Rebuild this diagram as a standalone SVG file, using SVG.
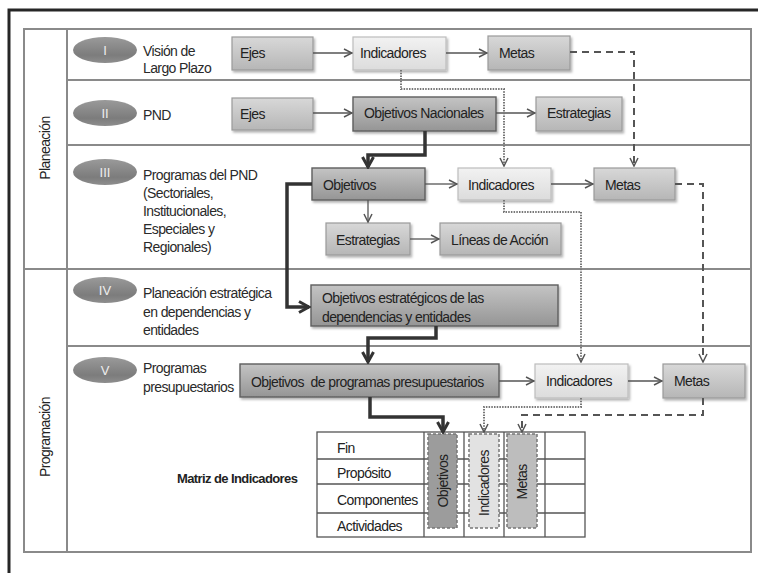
<svg xmlns="http://www.w3.org/2000/svg" width="758" height="573" viewBox="0 0 758 573">
<style>
text{font-family:"Liberation Sans",Arial,sans-serif;font-size:14px;fill:#222;letter-spacing:-0.6px}
.lbl{fill:#2a2a2a}
.bold{font-weight:bold;font-size:13px}
.num{fill:#eee;font-size:13px;text-anchor:middle;letter-spacing:0}
.bl{fill:url(#gL);stroke:#bdbdbd;stroke-width:1.2;filter:url(#sh)}
.bm{fill:url(#gM);stroke:#9a9a9a;stroke-width:1.2;filter:url(#sh)}
.bd{fill:url(#gD);stroke:#5e5e5e;stroke-width:1.4;filter:url(#sh)}
.grid{fill:none;stroke:#8a8a8a;stroke-width:2}
.thin{fill:none;stroke:#555;stroke-width:1.3;marker-end:url(#aThin)}
.dot{fill:none;stroke:#777;stroke-width:2;stroke-dasharray:1.5 1.2;marker-end:url(#aThin)}
.dash{fill:none;stroke:#555;stroke-width:2;stroke-dasharray:7 5;marker-end:url(#aThin)}
.thick{fill:none;stroke:#333;stroke-width:3.5;marker-end:url(#aThick)}
.mx{fill:none;stroke:#555;stroke-width:1.3}
.col{stroke:#777;stroke-width:1.5;stroke-dasharray:3 2}
</style>
<defs>
<linearGradient id="gL" x1="0" y1="0" x2="0" y2="1"><stop offset="0" stop-color="#f2f2f2"/><stop offset="1" stop-color="#dcdcdc"/></linearGradient>
<linearGradient id="gM" x1="0" y1="0" x2="0" y2="1"><stop offset="0" stop-color="#d8d8d8"/><stop offset="1" stop-color="#b6b6b6"/></linearGradient>
<linearGradient id="gD" x1="0" y1="0" x2="0" y2="1"><stop offset="0" stop-color="#c4c4c4"/><stop offset="1" stop-color="#959595"/></linearGradient>
<linearGradient id="gO" x1="0" y1="0" x2="0" y2="1"><stop offset="0" stop-color="#9a9a9a"/><stop offset="0.7" stop-color="#7c7c7c"/><stop offset="1" stop-color="#8e8e8e"/></linearGradient>
<filter id="sh" x="-10%" y="-20%" width="125%" height="150%"><feDropShadow dx="1.5" dy="2" stdDeviation="1.3" flood-color="#000" flood-opacity="0.3"/></filter>
<marker id="aThin" viewBox="0 0 10 10" refX="9" refY="5" markerWidth="10" markerHeight="10" markerUnits="userSpaceOnUse" orient="auto"><path d="M1,1 L9,5 L1,9" fill="none" stroke="#555" stroke-width="1.5"/></marker>
<marker id="aThick" viewBox="0 0 14 14" refX="12" refY="7" markerWidth="14" markerHeight="14" markerUnits="userSpaceOnUse" orient="auto"><path d="M2,1.5 L12,7 L2,12.5" fill="none" stroke="#333" stroke-width="3"/></marker>
</defs>
<rect width="758" height="573" fill="#fff"/>
<rect x="9" y="10" width="760" height="570" fill="none" stroke="#262626" stroke-width="3"/>

<g id="frame">
<rect class="grid" x="24" y="29" width="727" height="523"/>
<line class="grid" x1="67" y1="29" x2="67" y2="552"/>
<line class="grid" x1="67" y1="80" x2="751" y2="80"/>
<line class="grid" x1="67" y1="145" x2="751" y2="145"/>
<line class="grid" x1="24" y1="269" x2="751" y2="269"/>
<line class="grid" x1="67" y1="346" x2="751" y2="346"/>
<text transform="translate(50,148) rotate(-90)" text-anchor="middle" letter-spacing="-0.3">Planeación</text>
<text transform="translate(50,437) rotate(-90)" text-anchor="middle" letter-spacing="-0.3">Programación</text>
</g>

<g id="row1">
<ellipse cx="105" cy="50" rx="32" ry="13" fill="url(#gO)"/>
<text class="num" x="105" y="55">I</text>
<text class="lbl" x="143" y="56">Visión de</text>
<text class="lbl" x="143" y="73">Largo Plazo</text>
</g>
<g id="row2">
<ellipse cx="105" cy="113" rx="32" ry="13" fill="url(#gO)"/>
<text class="num" x="105" y="118">II</text>
<text class="lbl" x="143" y="120">PND</text>
</g>
<g id="row3">
<ellipse cx="105" cy="172" rx="32" ry="13" fill="url(#gO)"/>
<text class="num" x="105" y="177">III</text>
<text class="lbl" x="143" y="180">Programas del PND</text>
<text class="lbl" x="143" y="198">(Sectoriales,</text>
<text class="lbl" x="143" y="216">Institucionales,</text>
<text class="lbl" x="143" y="234">Especiales y</text>
<text class="lbl" x="143" y="252">Regionales)</text>
</g>
<g id="row4">
<ellipse cx="105" cy="290" rx="32" ry="13" fill="url(#gO)"/>
<text class="num" x="105" y="295">IV</text>
<text class="lbl" x="143" y="298">Planeación estratégica</text>
<text class="lbl" x="143" y="317">en dependencias y</text>
<text class="lbl" x="143" y="335">entidades</text>
</g>
<g id="row5">
<ellipse cx="105" cy="370" rx="32" ry="13" fill="url(#gO)"/>
<text class="num" x="105" y="375">V</text>
<text class="lbl" x="143" y="373">Programas</text>
<text class="lbl" x="143" y="392">presupuestarios</text>
</g>

<g id="ejes1"><rect class="bm" x="232" y="37" width="81" height="33"/><text x="240" y="58">Ejes</text></g>
<g id="indicadores1"><rect class="bl" x="353" y="37" width="93" height="33"/><text x="360" y="58">Indicadores</text></g>
<g id="metas1"><rect class="bm" x="488" y="36" width="82" height="34"/><text x="499" y="58">Metas</text></g>

<g id="ejes2"><rect class="bm" x="232" y="98" width="81" height="32"/><text x="240" y="119">Ejes</text></g>
<g id="objnac"><rect class="bd" x="353" y="97" width="143" height="34"/><text x="364" y="118">Objetivos Nacionales</text></g>
<g id="estrategias2"><rect class="bm" x="536" y="97" width="86" height="34"/><text x="547" y="118">Estrategias</text></g>

<g id="objetivos3"><rect class="bd" x="312" y="168" width="113" height="32"/><text x="323" y="190">Objetivos</text></g>
<g id="indicadores3"><rect class="bl" x="458" y="168" width="93" height="32"/><text x="468" y="190">Indicadores</text></g>
<g id="metas3"><rect class="bm" x="594" y="168" width="81" height="32"/><text x="605" y="190">Metas</text></g>
<g id="estrategias3"><rect class="bm" x="326" y="223" width="84" height="32"/><text x="336" y="245">Estrategias</text></g>
<g id="lineas"><rect class="bm" x="440" y="223" width="121" height="32"/><text x="451" y="245">Líneas de Acción</text></g>

<g id="objest"><rect class="bd" x="311" y="285" width="247" height="41"/><text x="322" y="303">Objetivos estratégicos de las</text><text x="322" y="322">dependencias y entidades</text></g>

<g id="objpp"><rect class="bd" x="240" y="364" width="259" height="33"/><text x="251" y="387" xml:space="preserve">Objetivos  de programas presupuestarios</text></g>
<g id="indicadores5"><rect class="bl" x="535" y="364" width="93" height="34"/><text x="546" y="386">Indicadores</text></g>
<g id="metas5"><rect class="bm" x="663" y="364" width="82" height="34"/><text x="674" y="386">Metas</text></g>

<g id="matriz">
<text class="bold" x="177" y="483">Matriz de Indicadores</text>
<rect class="mx" x="317" y="432" width="268" height="105"/>
<line class="mx" x1="317" y1="459" x2="585" y2="459"/>
<line class="mx" x1="317" y1="484" x2="585" y2="484"/>
<line class="mx" x1="317" y1="513" x2="585" y2="513"/>
<line class="mx" x1="424" y1="432" x2="424" y2="537"/>
<line class="mx" x1="464" y1="432" x2="464" y2="537"/>
<line class="mx" x1="504" y1="432" x2="504" y2="537"/>
<line class="mx" x1="545" y1="432" x2="545" y2="537"/>
<text x="337" y="453">Fin</text>
<text x="337" y="478">Propósito</text>
<text x="337" y="505">Componentes</text>
<text x="337" y="531">Actividades</text>
</g>
<g id="colObjetivos"><rect class="col" x="428" y="434" width="29" height="94" fill="#9c9c9c"/><text transform="translate(448,481) rotate(-90)" text-anchor="middle">Objetivos</text></g>
<g id="colIndicadores"><rect class="col" x="469" y="434" width="30" height="94" fill="#e2e2e2"/><text transform="translate(489,483) rotate(-90)" text-anchor="middle">Indicadores</text></g>
<g id="colMetas"><rect class="col" x="507" y="434" width="30" height="94" fill="#bdbdbd"/><text transform="translate(527,482) rotate(-90)" text-anchor="middle">Metas</text></g>

<g id="connectors">
<path class="thin" d="M313,53 H352"/>
<path class="thin" d="M446,53 H487"/>
<path class="thin" d="M313,113 H352"/>
<path class="thin" d="M496,113 H535"/>
<path class="thin" d="M425,184 H457"/>
<path class="thin" d="M551,184 H593"/>
<path class="thin" d="M368,200 V222"/>
<path class="thin" d="M410,239 H439"/>
<path class="thin" d="M499,381 H534"/>
<path class="thin" d="M628,381 H662"/>
<path class="dot" d="M401,70 V89 H504 V166"/>
<path class="dot" d="M504,200 V212 H581 V362"/>
<path class="dot" d="M581,398 V407 H484 V432"/>
<path class="dash" d="M570,52 H634 V166"/>
<path class="dash" d="M675,184 H703 V362"/>
<path class="dash" d="M703,398 V415 H522 V432"/>
<path class="thick" d="M425,131 V155 H368 V167"/>
<path class="thick" d="M312,184 H287 V307 H309"/>
<path class="thick" d="M436,326 V338 H368 V362"/>
<path class="thick" d="M370,397 V417 H443 V432"/>
</g>
</svg>
